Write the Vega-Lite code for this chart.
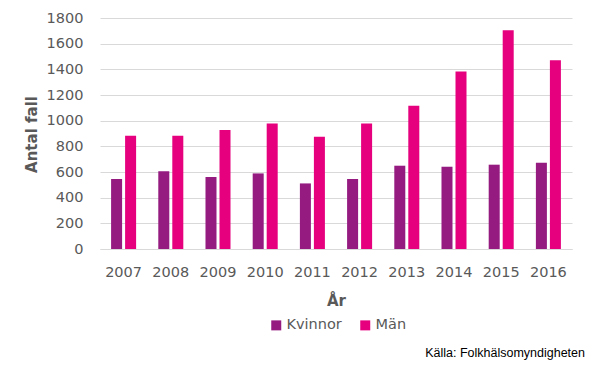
{
  "$schema": "https://vega.github.io/schema/vega-lite/v6.json",
  "autosize": {"type": "none"},
  "padding": {"left": 100, "top": 18, "right": 18, "bottom": 118},
  "width": 472,
  "height": 231,
  "background": "white",
  "config": {
    "view": {"stroke": null},
    "font": "DejaVu Sans"
  },
  "title": {
    "text": "Källa:  Folkhälsomyndigheten",
    "orient": "bottom",
    "anchor": "end",
    "frame": "group",
    "font": "Liberation Sans",
    "fontSize": 12.5,
    "fontWeight": "normal",
    "color": "#000000",
    "dx": 13,
    "offset": 15
  },
  "data": {
    "values": [
      {"year": "2007", "gender": "Kvinnor", "cases": 545},
      {"year": "2007", "gender": "Män", "cases": 883},
      {"year": "2008", "gender": "Kvinnor", "cases": 605},
      {"year": "2008", "gender": "Män", "cases": 883},
      {"year": "2009", "gender": "Kvinnor", "cases": 561},
      {"year": "2009", "gender": "Män", "cases": 927},
      {"year": "2010", "gender": "Kvinnor", "cases": 589},
      {"year": "2010", "gender": "Män", "cases": 977},
      {"year": "2011", "gender": "Kvinnor", "cases": 511},
      {"year": "2011", "gender": "Män", "cases": 875},
      {"year": "2012", "gender": "Kvinnor", "cases": 545},
      {"year": "2012", "gender": "Män", "cases": 977},
      {"year": "2013", "gender": "Kvinnor", "cases": 649},
      {"year": "2013", "gender": "Män", "cases": 1117},
      {"year": "2014", "gender": "Kvinnor", "cases": 641},
      {"year": "2014", "gender": "Män", "cases": 1384},
      {"year": "2015", "gender": "Kvinnor", "cases": 657},
      {"year": "2015", "gender": "Män", "cases": 1704},
      {"year": "2016", "gender": "Kvinnor", "cases": 673},
      {"year": "2016", "gender": "Män", "cases": 1470}
    ]
  },
  "mark": {"type": "bar"},
  "encoding": {
    "x": {
      "field": "year",
      "type": "nominal",
      "scale": {"paddingInner": 0.47, "paddingOuter": 0.235},
      "axis": {
        "title": "År",
        "titleFont": "DejaVu Sans",
        "titleFontSize": 15,
        "titleFontWeight": "bold",
        "titleColor": "#595959",
        "titleBaseline": "middle",
        "titleY": 51,
        "labelAngle": 0,
        "labelFontSize": 14.5,
        "labelColor": "#595959",
        "labelPadding": 16,
        "ticks": false,
        "domainColor": "#D9D9D9",
        "domainWidth": 1
      }
    },
    "xOffset": {
      "field": "gender",
      "type": "nominal",
      "scale": {"paddingInner": 0.214, "paddingOuter": 0}
    },
    "y": {
      "field": "cases",
      "type": "quantitative",
      "scale": {"domain": [0, 1800], "nice": false},
      "axis": {
        "title": "Antal fall",
        "titleFont": "DejaVu Sans",
        "titleFontSize": 15,
        "titleFontWeight": "bold",
        "titleColor": "#595959",
        "titleBaseline": "middle",
        "titleX": -69,
        "titleY": 116,
        "values": [0, 200, 400, 600, 800, 1000, 1200, 1400, 1600, 1800],
        "format": "d",
        "labelFontSize": 14.5,
        "labelColor": "#595959",
        "labelPadding": 17,
        "ticks": false,
        "domain": false,
        "gridColor": "#D9D9D9",
        "gridWidth": 1
      }
    },
    "color": {
      "field": "gender",
      "type": "nominal",
      "scale": {"domain": ["Kvinnor", "Män"], "range": ["#951B81", "#E6007E"]},
      "legend": {
        "title": null,
        "orient": "none",
        "direction": "horizontal",
        "legendX": 169,
        "legendY": 300,
        "symbolType": "square",
        "symbolSize": 100,
        "symbolStrokeWidth": 0,
        "symbolOpacity": 1,
        "labelFontSize": 14.5,
        "labelColor": "#595959",
        "labelOffset": 3,
        "columnPadding": 16
      }
    }
  }
}
